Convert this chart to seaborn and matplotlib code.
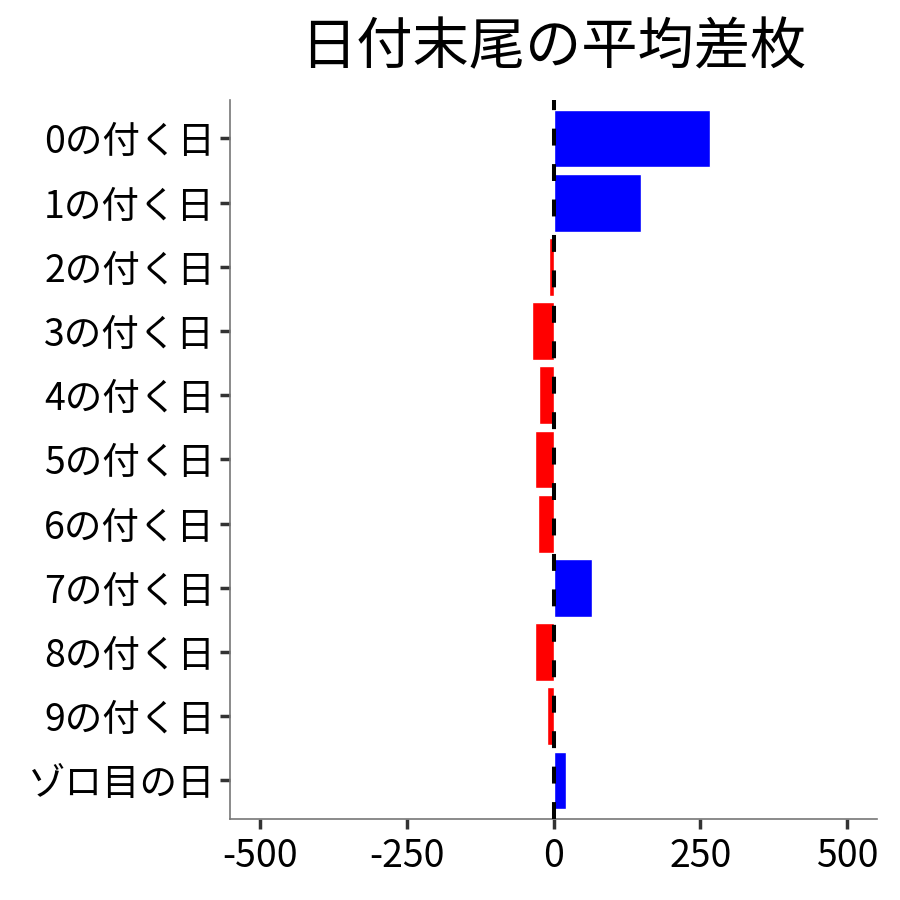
import matplotlib
matplotlib.use("Agg")
import matplotlib.pyplot as plt
import seaborn as sns
import pandas as pd

categories = ["0の付く日", "1の付く日", "2の付く日", "3の付く日", "4の付く日",
              "5の付く日", "6の付く日", "7の付く日", "8の付く日", "9の付く日", "ゾロ目の日"]
values = [267, 149, -7, -37, -25, -32, -27, 66, -31, -11, 21]
xticks = [-500, -250, 0, 250, 500]
title = "日付末尾の平均差枚"

sns.set_theme(style="white")
plt.rcParams['font.family'] = ['Noto Sans CJK JP', 'DejaVu Sans']

df = pd.DataFrame({"cat": categories, "val": values})
df["sign"] = ["pos" if v >= 0 else "neg" for v in values]

fig = plt.figure(figsize=(9, 9), dpi=100)
ax = fig.add_axes([0.256, 0.09, 0.718, 0.799])

sns.barplot(data=df, x="val", y="cat", hue="sign", order=categories,
            palette={"pos": "#0000FF", "neg": "#FF0000"}, dodge=False,
            width=0.9, legend=False, ax=ax, saturation=1)
ax.axvline(0, color="black", linestyle=(0, (4.2, 4.6)), linewidth=2.9, zorder=5)

ax.set_xlim(-550, 550)
ax.set_ylim(10.6, -0.6)
ax.set_xticks(xticks)
ax.set_xticklabels([str(t) for t in xticks])
ax.set_xlabel("")
ax.set_ylabel("")
ax.set_title(title, fontsize=40.5, pad=26, color="black")

for s in ["top", "right"]:
    ax.spines[s].set_visible(False)
for s in ["left", "bottom"]:
    ax.spines[s].set_color("#777777")
    ax.spines[s].set_linewidth(1.2)
ax.tick_params(axis="both", which="both", length=7, width=2.5, color="#333333",
               labelsize=27, labelcolor="black")
ax.tick_params(axis="x", bottom=True, pad=6)
ax.tick_params(axis="y", left=True, pad=4)

fig.savefig("out.png", dpi=100)
